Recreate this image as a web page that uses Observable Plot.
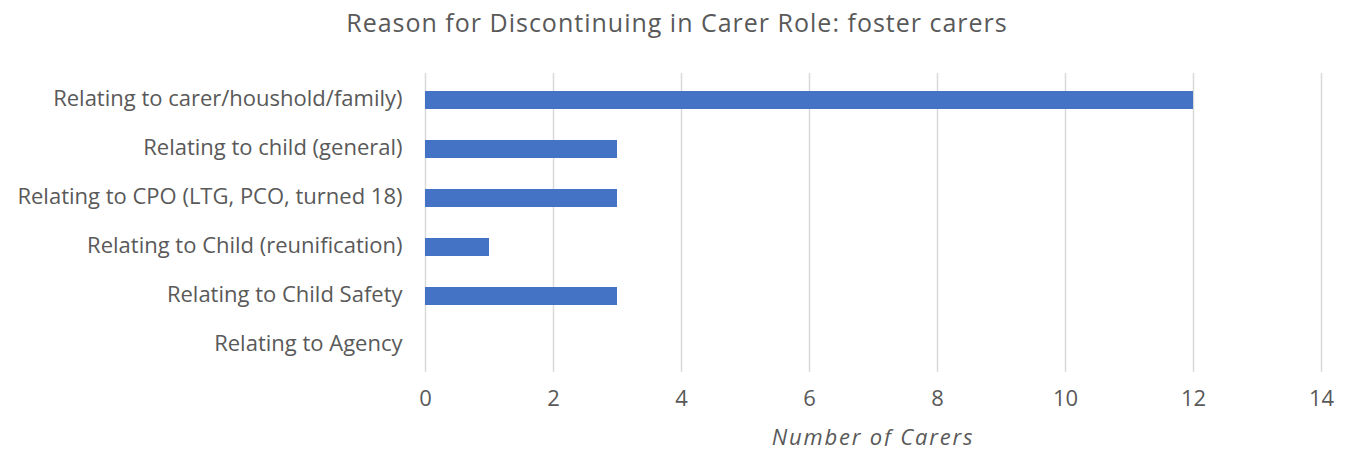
<!DOCTYPE html>
<html>
<head>
<meta charset="utf-8">
<script src="https://cdn.jsdelivr.net/npm/d3@7"></script>
<script src="https://cdn.jsdelivr.net/npm/@observablehq/plot@0.6"></script>
<style>
  body { margin: 0; background: #fff; font-family: "Open Sans", sans-serif; color: #595959; overflow: hidden; }
  #title { height: 60px; line-height: 44px; text-align: center; font-size: 25px; letter-spacing: 1px; padding-left: 7px; width: 1347px; box-sizing: border-box; white-space: nowrap; }
  #chart svg { display: block; }
  #xlabel { width: 1347px; margin-top: 14px; height: 20px; line-height: 20px; font-size: 22px; letter-spacing: 1.8px; font-style: italic; box-sizing: border-box; text-align: left; white-space: nowrap; }
</style>
</head>
<body>
<div id="title">Reason for Discontinuing in Carer Role: foster carers</div>
<div id="chart"></div>
<div id="xlabel"><span id="xl">Number of Carers</span></div>
<script>
const categories = [
  "Relating to carer/houshold/family)",
  "Relating to child (general)",
  "Relating to CPO (LTG, PCO, turned 18)",
  "Relating to Child (reunification)",
  "Relating to Child Safety",
  "Relating to Agency"
];
const values = [12, 3, 3, 1, 3, 0];
const xTicks = [0, 2, 4, 6, 8, 10, 12, 14];

const data = categories.map((c, i) => ({category: c, value: values[i]}));

const chart = Plot.plot({
  width: 1347,
  height: 352,
  marginTop: 13,
  marginBottom: 40,
  marginLeft: 425,
  marginRight: 26,
  style: {fontFamily: "'Open Sans', sans-serif", fontSize: "22px", color: "#595959", background: "#fff"},
  x: {domain: [0, 14], ticks: xTicks, label: null},
  y: {domain: categories, paddingInner: 0.64, paddingOuter: 0.32, label: null},
  marks: [
    Plot.ruleX(xTicks, {stroke: "#d9d9d9", strokeWidth: 1.5, strokeOpacity: 1}),
    Plot.barX(data, {x: "value", y: "category", fill: "#4472C4"}),
    Plot.axisX({ticks: xTicks, tickSize: 0, tickPadding: 18, fill: "#595959", fontSize: 22, label: null}),
    Plot.axisY({tickSize: 0, tickPadding: 23, fill: "#595959", fontSize: 22, label: null, dy: -2})
  ]
});
document.getElementById("chart").appendChild(chart);
const xl = document.getElementById("xl");
const w = xl.getBoundingClientRect().width;
document.getElementById("xlabel").style.paddingLeft = (873 - w / 2) + "px";
</script>
</body>
</html>
